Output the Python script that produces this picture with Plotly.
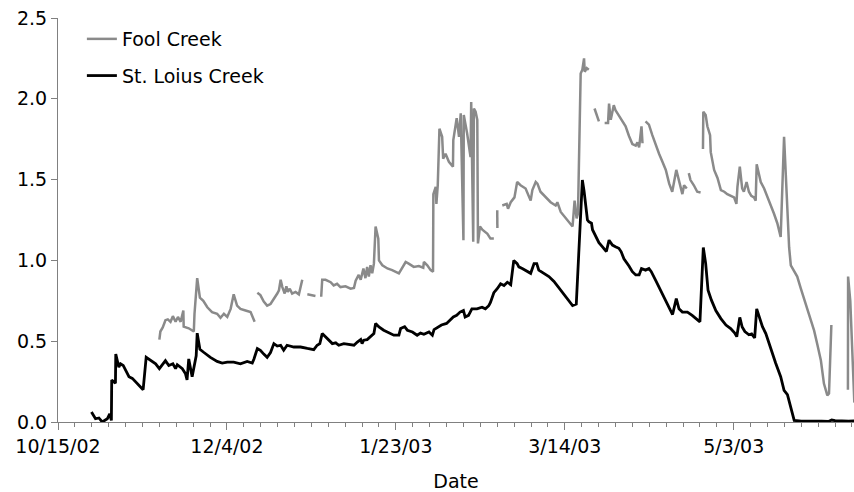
import pandas as pd
import plotly.graph_objects as go

# Daily streamflow record, 2002-2003 season
START = pd.Timestamp("2002-10-15")

# Fool Creek: days since 15 Oct 2002 and flow; None marks missing records
fool_days = [
    30.0, 30.3, 31.0, 31.8, 32.5, 33.3, 34.0, 34.8, 35.5, 36.3, 37.1, 37.2, 38.7, 40.2, 40.4,
    41.2, 42.0, 43.0, 44.2, 45.6, 47.1, 48.1, 49.1, 50.1, 51.1, 52.0, 53.0, 54.0, 55.5, 57.0,
    58.2, 58.6,
    59.0, 59.9, 60.9, 61.9, 62.9, 63.9, 64.9, 65.4, 65.9, 66.4, 67.1, 67.6, 68.0, 68.6, 69.3,
    70.3, 71.3, 72.3, 73.0,
    73.8, 76.2, 77.0,
    77.9, 78.2, 79.2, 80.7, 81.6, 82.6, 83.6, 85.1, 86.6, 87.6, 88.1, 89.0, 89.6, 90.4, 91.0,
    91.5, 92.0, 92.5, 93.0, 93.5, 94.0, 94.8, 95.0, 96.0, 97.5, 98.9, 100.9, 101.9, 102.9,
    103.8, 105.3, 106.8, 108.1, 108.3, 109.3, 110.3, 111.0, 111.1, 111.8, 112.0, 112.4, 112.9,
    113.7, 114.0, 114.7, 115.7, 116.9, 117.0, 118.0, 118.7, 119.2, 120.0, 120.1, 121.1, 122.1,
    122.3, 122.9, 123.1, 123.6, 124.1, 124.3, 124.9, 125.6, 127.1, 128.0, 129.0, 129.5,
    130.0, 130.05, 130.8,
    131.5, 132.8, 133.2, 134.0, 135.1, 135.9, 136.9, 138.4, 139.9, 140.4, 141.4, 141.9, 142.8,
    144.3, 145.8, 147.3, 147.8, 148.8, 150.7, 152.3, 152.9, 153.5, 153.9, 154.7, 155.2, 155.7,
    155.9, 156.5, 157.1, 158.0,
    158.8, 159.6, 160.1, 161.0,
    161.8, 162.8, 163.1, 163.6, 164.5, 165.0, 165.6, 166.5, 167.0, 168.0, 169.0, 170.0, 171.0,
    171.5, 172.0, 172.7, 173.0, 173.4,
    173.9, 174.9, 175.9, 176.9, 177.9, 178.9, 179.9, 180.9, 181.8, 183.0, 183.8, 184.8, 185.3,
    186.1, 186.4,
    186.7, 187.2, 188.2, 189.2, 190.2, 190.5,
    190.9, 191.0, 191.7, 192.2, 193.0, 193.2, 194.2, 195.2, 196.2, 197.2, 198.1, 199.1, 200.1,
    200.8, 201.1, 201.8, 202.5, 203.0, 203.8, 204.5, 205.2, 206.0, 206.5, 206.8, 207.5, 208.0,
    209.0, 209.9, 210.9, 211.9, 212.9, 213.9, 214.9, 215.4, 215.9, 216.4, 216.9, 217.8, 218.8,
    219.8, 220.8, 221.8, 222.8, 223.3, 223.8, 224.8, 225.8, 226.7, 227.7, 228.2, 228.7, 228.9,
    231.0,
    233.8, 233.85, 234.5, 235.2, 235.7,
]
fool_flow = [
    0.51, 0.56, 0.585, 0.63, 0.635, 0.62, 0.655, 0.62, 0.65, 0.62, 0.69, 0.59, 0.58, 0.56, 0.67,
    0.89, 0.77, 0.75, 0.71, 0.68, 0.67, 0.645, 0.67, 0.65, 0.70, 0.79, 0.72, 0.70, 0.69, 0.68,
    0.62, None,
    0.80, 0.785, 0.745, 0.72, 0.73, 0.76, 0.795, 0.815, 0.88, 0.835, 0.795, 0.84, 0.805, 0.825,
    0.795, 0.805, 0.79, 0.88, None,
    0.79, 0.78, None,
    0.775, 0.88, 0.88, 0.865, 0.845, 0.855, 0.835, 0.84, 0.825, 0.83, 0.875, 0.91, 0.88, 0.95,
    0.89, 0.96, 0.90, 0.97, 0.92, 0.98, 1.21, 1.135, 1.0, 0.97, 0.95, 0.94, 0.92, 0.955, 0.99,
    0.98, 0.96, 0.965, 0.955, 0.99, 0.97, 0.94, 0.93, 1.41, 1.455, 1.35, 1.465, 1.815,
    1.765, 1.63, 1.66, 1.61, 1.58, 1.745, 1.88, 1.765, 1.91, 1.125, 1.90, 1.785, 1.64,
    1.98, 1.115, 1.94, 1.92, 1.87, 1.105, 1.21, 1.19, 1.165, 1.135, 1.135, None,
    1.31, 1.20, None,
    1.34, 1.35, 1.32, 1.36, 1.39, 1.485, 1.465, 1.445, 1.37, 1.435, 1.485, 1.475, 1.425,
    1.39, 1.36, 1.34, 1.36, 1.30, 1.25, 1.21, 1.37, 1.26, 1.29, 2.157, 2.18, 2.25,
    2.167, 2.19, 2.18, None,
    1.94, 1.89, 1.86, None,
    1.85, 1.85, 1.97, 1.87, 1.96, 1.93, 1.91, 1.88, 1.86, 1.83, 1.77, 1.72, 1.71,
    1.73, 1.70, 1.83, 1.725, None,
    1.86, 1.84, 1.775, 1.71, 1.66, 1.61, 1.56, 1.475, 1.425, 1.56, 1.497, 1.41, 1.465,
    1.445, None,
    1.54, 1.497, 1.465, 1.425, 1.42, None,
    1.69, 1.92, 1.90, 1.83, 1.775, 1.67, 1.56, 1.51, 1.435, 1.425, 1.41, 1.40, 1.39,
    1.35, 1.455, 1.58, 1.445, 1.425, 1.485, 1.425, 1.40, 1.39, 1.37, 1.595, 1.54, 1.485,
    1.445, 1.40, 1.35, 1.29, 1.23, 1.145, 1.765, 1.56, 1.35, 1.08, 0.97, 0.94, 0.90,
    0.83, 0.76, 0.70, 0.63, 0.59, 0.565, 0.475, 0.38, 0.238, 0.165, 0.176, 0.41, 0.60,
    None,
    0.20, 0.90, 0.75, 0.35, 0.12,
]

# St. Louis Creek: days since 15 Oct 2002 and flow
stl_days = [
    9.9, 11.1, 12.1, 13.1, 14.6, 15.3, 15.8, 15.9, 17.0, 17.1, 18.0, 18.5, 19.3, 20.0, 21.0,
    22.0, 23.4, 25.2, 26.1, 27.4, 28.9, 30.0, 31.8, 32.8, 34.0, 34.8, 35.3, 36.8, 37.7, 38.2,
    38.7, 39.7, 40.2, 40.9, 41.2, 42.0, 43.2, 45.1, 47.1, 48.6, 50.1, 52.0, 54.0, 56.0, 57.5,
    58.0, 59.0, 59.9, 60.9, 61.9, 62.9, 63.9, 64.9, 65.9, 66.8, 67.8, 69.8, 71.8, 73.8, 75.7,
    76.7, 77.5, 78.2, 79.2, 80.2, 81.2, 82.2, 83.1, 84.6, 86.1, 87.6, 88.6, 89.6, 90.0, 90.5,
    91.5, 92.5, 93.5, 94.0, 95.0, 96.4, 97.9, 99.4, 100.9, 101.4, 102.6, 103.4, 104.9, 106.3,
    107.3, 108.3, 109.8, 110.8, 111.3, 112.7, 113.5, 115.0, 116.0, 117.0, 118.0, 119.0, 120.0,
    120.5, 121.5, 122.5, 124.0, 125.5, 126.5, 127.5, 128.0, 129.0, 130.0, 131.0, 132.0, 133.0,
    134.0, 134.9, 135.9, 136.4, 137.4, 138.9, 139.9, 140.9, 141.7, 142.3, 143.8, 145.3, 146.8,
    148.3, 149.5, 150.5, 151.5, 152.3, 153.4, 155.2, 155.7, 156.7, 157.1, 157.9, 158.2, 159.1,
    160.1, 161.1, 162.3, 163.1, 164.1, 165.0, 166.0, 166.7, 167.5, 169.0, 170.0, 171.0, 172.0,
    172.7, 173.9, 174.9, 175.6, 176.9, 178.4, 179.9, 180.9, 181.9, 183.0, 183.8, 184.8, 186.3,
    187.7, 188.7, 190.0, 191.0, 191.7, 192.4, 193.4, 194.7, 196.2, 197.7, 199.1, 200.3, 200.9,
    201.8, 202.5, 203.3, 204.5, 205.3, 206.2, 206.8, 207.5, 208.5, 209.5, 210.9, 212.4, 213.9,
    214.9, 215.9, 216.9, 217.9, 220.0, 222.0, 224.0, 226.0, 228.0, 229.0, 230.0, 232.0, 234.0,
    235.8,
]
stl_flow = [
    0.062, 0.02, 0.025, 0.0, 0.02, 0.05, 0.01, 0.26, 0.24, 0.42, 0.34, 0.36, 0.35, 0.32, 0.28,
    0.27, 0.24, 0.20, 0.40, 0.38, 0.36, 0.33, 0.38, 0.35, 0.36, 0.33, 0.355, 0.33, 0.30, 0.26,
    0.39, 0.28, 0.34, 0.41, 0.55, 0.45, 0.43, 0.40, 0.375, 0.365, 0.37, 0.37, 0.36, 0.375, 0.365,
    0.39, 0.455, 0.444, 0.42, 0.40, 0.43, 0.485, 0.47, 0.475, 0.444, 0.475, 0.464, 0.464, 0.455,
    0.448, 0.475, 0.485, 0.547, 0.526, 0.50, 0.485, 0.49, 0.475, 0.485, 0.48, 0.475, 0.495, 0.51,
    0.485, 0.506, 0.51, 0.526, 0.547, 0.61, 0.588, 0.568, 0.55, 0.537, 0.537, 0.578, 0.59, 0.568,
    0.557, 0.537, 0.55, 0.543, 0.557, 0.537, 0.572, 0.588, 0.60, 0.61, 0.63, 0.65, 0.66, 0.68,
    0.69, 0.65, 0.66, 0.70, 0.70, 0.71, 0.70, 0.72, 0.74, 0.80, 0.825, 0.855, 0.845, 0.865,
    0.85, 1.0, 0.98, 0.96, 0.95, 0.93, 0.92, 0.98, 0.98, 0.94, 0.92, 0.90, 0.87, 0.83, 0.80,
    0.77, 0.745, 0.72, 0.73, 1.497, 1.43, 1.25, 1.24, 1.23, 1.19, 1.155, 1.11, 1.085, 1.055,
    1.125, 1.095, 1.085, 1.075, 1.053, 1.01, 0.965, 0.93, 0.91, 0.91, 0.95, 0.94, 0.95, 0.93,
    0.877, 0.815, 0.75, 0.71, 0.665, 0.764, 0.70, 0.68, 0.68, 0.66, 0.64, 0.62, 1.08, 0.98,
    0.815, 0.754, 0.69, 0.64, 0.60, 0.578, 0.55, 0.528, 0.647, 0.588, 0.56, 0.54, 0.545, 0.52,
    0.70, 0.65, 0.59, 0.547, 0.455, 0.365, 0.28, 0.196, 0.17, 0.093, 0.01, 0.005, 0.006, 0.004,
    0.005, 0.003, 0.012, 0.008, 0.006, 0.005, 0.007,
]

# Axis labels
x_tick_dates = ["2002-10-15", "2002-12-04", "2003-01-23", "2003-03-14", "2003-05-03"]
x_tick_labels = ["10/15/02", "12/4/02", "1/23/03", "3/14/03", "5/3/03"]
y_tick_values = [0.0, 0.5, 1.0, 1.5, 2.0, 2.5]

AXIS_GREY = "#808080"
FONT = dict(family="DejaVu Sans, Verdana, sans-serif", size=19, color="#000000")

fool_x = START + pd.to_timedelta(fool_days, unit="D")
stl_x = START + pd.to_timedelta(stl_days, unit="D")

fig = go.Figure()
fig.add_trace(go.Scatter(
    x=fool_x, y=fool_flow, mode="lines", name="Fool Creek",
    line=dict(color="#8a8a8a", width=2.5), connectgaps=False,
    legendgroup="fool",
))
fig.add_trace(go.Scatter(
    x=stl_x, y=stl_flow, mode="lines", name="St. Loius Creek",
    line=dict(color="#000000", width=2.8), connectgaps=False,
    legendgroup="stl",
))

x_end = START + pd.Timedelta(days=235.6)

fig.update_layout(
    width=854, height=492,
    margin=dict(l=58, r=0, t=18, b=70),
    paper_bgcolor="white", plot_bgcolor="white",
    font=FONT,
    showlegend=True,
    legend=dict(
        x=0.03, y=0.995, xanchor="left", yanchor="top",
        bgcolor="rgba(0,0,0,0)", font=FONT,
        traceorder="grouped", tracegroupgap=9,
    ),
    xaxis=dict(
        range=[START, x_end],
        tickmode="array",
        tickvals=pd.to_datetime(x_tick_dates),
        ticktext=x_tick_labels,
        ticks="outside", ticklen=7, tickwidth=1, tickcolor=AXIS_GREY,
        minor=dict(
            tickmode="linear", tick0=START, dtick=5 * 86400000,
            ticks="outside", ticklen=4, tickwidth=1, tickcolor=AXIS_GREY,
            showgrid=False,
        ),
        showline=True, linecolor=AXIS_GREY, linewidth=1,
        showgrid=False, zeroline=False,
        title=dict(text="Date", font=FONT, standoff=20),
        tickfont=FONT,
    ),
    yaxis=dict(
        range=[0, 2.5],
        tickmode="array",
        tickvals=y_tick_values,
        tickformat=".1f",
        ticks="outside", ticklen=6, tickwidth=1, tickcolor=AXIS_GREY,
        showline=True, linecolor=AXIS_GREY, linewidth=1,
        showgrid=False, zeroline=False,
        tickfont=FONT,
    ),
)

fig.write_html("out.html")
